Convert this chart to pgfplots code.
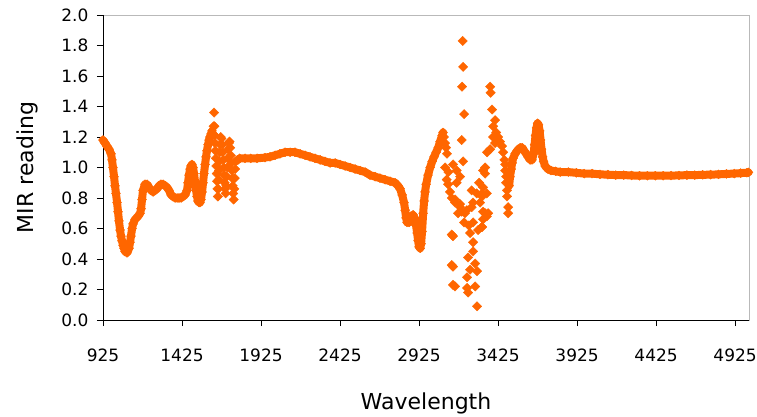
\documentclass[border=0pt]{standalone}
\usepackage{pgfplots}
\pgfplotsset{compat=1.18}
\usepackage{fontspec}
\setmainfont{DejaVu Sans}
\definecolor{xlor}{RGB}{255,102,0}
\begin{document}
\begin{tikzpicture}
\begin{axis}[
 scale only axis, width=646pt, height=305pt,
 xmin=925, xmax=5013, ymin=0, ymax=2,
 clip=false,
 xtick={925,1425,1925,2425,2925,3425,3925,4425,4925},
 ytick={0,0.2,0.4,0.6,0.8,1.0,1.2,1.4,1.6,1.8,2.0},
 axis line style={draw=gray!55, line width=0.9pt},
 tick align=outside, xtick pos=bottom, ytick pos=left,
 major tick length=6pt, tick style={black, line width=0.8pt},
 /pgf/number format/assume math mode=true,
 xticklabel style={font=\fontsize{17}{17}\selectfont, /pgf/number format/1000 sep={}, yshift=-19pt},
 yticklabel style={font=\fontsize{17}{17}\selectfont, xshift=-5pt, /pgf/number format/.cd, fixed, fixed zerofill, precision=1},
 xlabel={Wavelength}, ylabel={MIR reading},
 xlabel style={font=\fontsize{22}{22}\selectfont, at={(axis description cs:0.5,0)}, anchor=center, yshift=-83pt},
 ylabel style={font=\fontsize{22}{22}\selectfont, at={(axis description cs:0,0.5)}, anchor=center, yshift=76pt},
]
\coordinate (bl) at (rel axis cs:0,0);
\draw[black, line width=0.9pt] (rel axis cs:0,1) -- (rel axis cs:0,0) -- (rel axis cs:1,0);
% smooth segment A
\addplot[xlor, line width=8pt, line join=round, line cap=round, mark=square*, mark size=3.2pt, mark options={rotate=45, line width=0.4pt}] coordinates {
(925,1.18)(938,1.16)(950,1.14)(963,1.12)(976,1.09)(982,1.05)(988,1.00)(995,0.94)(1001,0.88)(1007,0.83)(1014,0.77)(1020,0.71)(1026,0.65)(1033,0.59)(1039,0.55)(1045,0.52)(1052,0.49)(1058,0.47)(1064,0.45)(1077,0.44)(1090,0.47)(1096,0.51)(1102,0.55)(1109,0.60)(1115,0.63)(1128,0.66)(1147,0.68)(1160,0.70)(1166,0.73)(1172,0.79)(1178,0.85)(1191,0.89)(1204,0.89)(1216,0.87)(1229,0.85)(1242,0.84)(1254,0.85)(1267,0.86)(1280,0.88)(1292,0.89)(1305,0.89)(1318,0.88)(1330,0.87)(1343,0.85)(1356,0.82)(1368,0.81)(1381,0.80)(1394,0.80)(1406,0.80)(1419,0.80)(1431,0.81)(1444,0.82)(1457,0.85)(1463,0.90)(1469,0.95)(1476,0.99)(1482,1.01)(1488,1.02)(1495,1.00)(1501,0.96)(1507,0.91)(1514,0.85)(1520,0.81)(1526,0.78)(1533,0.77)(1539,0.77)(1545,0.79)(1552,0.84)(1558,0.90)(1564,0.96)(1571,1.02)(1577,1.07)(1583,1.11)(1590,1.15)(1596,1.18)(1602,1.20)(1609,1.22)(1615,1.24)
};
% oscillating segment B
\addplot[xlor, only marks, mark=square*, mark size=3.3pt, mark options={rotate=45}] coordinates {
(1622,1.22)(1625,1.27)(1628,1.36)(1630,1.27)(1632,1.21)(1634,1.16)(1636,1.11)(1639,1.06)(1642,1.01)(1645,0.96)(1647,0.91)(1649,0.86)(1652,0.81)
(1655,0.86)(1657,0.92)(1659,0.98)(1661,1.04)(1663,1.10)(1666,1.15)
(1670,1.20)(1675,1.19)(1680,1.15)(1683,1.10)(1686,1.05)(1689,1.00)(1692,0.95)(1695,0.90)(1698,0.86)(1701,0.83)
(1705,0.88)(1708,0.94)(1711,1.00)(1714,1.06)(1718,1.12)(1722,1.16)(1726,1.17)
(1730,1.13)(1734,1.08)(1737,1.03)(1740,0.98)(1743,0.93)(1746,0.88)(1749,0.83)(1752,0.79)
(1756,0.86)(1759,0.93)(1762,0.99)
};
% smooth segment C
\addplot[xlor, line width=8pt, line join=round, line cap=round, mark=square*, mark size=3.2pt, mark options={rotate=45, line width=0.4pt}] coordinates {
(1765,1.04)(1790,1.06)(1824,1.06)(1860,1.06)(1900,1.06)(1950,1.065)(1982,1.07)(2014,1.08)(2045,1.09)(2077,1.10)(2109,1.10)(2140,1.10)(2172,1.09)(2204,1.08)(2235,1.07)(2267,1.06)(2299,1.05)(2330,1.04)(2362,1.03)(2394,1.03)(2425,1.02)(2457,1.01)(2489,1.00)(2520,0.99)(2552,0.98)(2584,0.97)(2615,0.95)(2647,0.94)(2678,0.93)(2710,0.92)(2742,0.91)(2774,0.90)(2792,0.88)(2805,0.86)(2818,0.82)(2830,0.77)(2837,0.72)(2843,0.67)(2849,0.64)(2862,0.64)(2875,0.68)(2887,0.69)(2900,0.66)(2906,0.62)(2913,0.57)(2919,0.52)(2925,0.48)(2932,0.47)(2938,0.50)(2944,0.58)(2951,0.70)(2957,0.78)(2963,0.84)(2970,0.89)(2982,0.95)(2995,1.00)(3008,1.04)(3020,1.07)(3033,1.10)(3046,1.13)(3058,1.17)(3071,1.21)(3077,1.23)
};
% scattered segment D
\addplot[xlor, only marks, mark=square*, mark size=3.3pt, mark options={rotate=45}] coordinates {
(3083,1.20)(3090,1.16)(3096,1.13)(3102,1.09)(3090,1.00)(3111,0.97)(3100,0.92)(3109,0.89)(3140,1.02)(3163,0.98)(3185,0.94)(3163,0.90)(3195,1.18)(3121,0.84)
(3132,0.80)(3153,0.79)(3153,0.77)(3185,0.76)(3185,0.74)(3172,0.70)(3195,0.71)(3216,0.70)(3227,0.72)(3258,0.74)(3267,0.77)(3258,0.85)(3290,0.83)(3305,0.90)(3322,0.83)(3354,0.83)(3311,0.77)(3210,0.64)(3240,0.62)
(3132,0.56)(3140,0.55)(3140,0.35)(3132,0.36)(3140,0.23)(3153,0.22)
(3248,0.57)(3267,0.64)(3299,0.59)(3322,0.61)(3330,0.66)(3354,0.68)(3362,0.70)(3330,0.71)(3267,0.51)(3267,0.45)(3280,0.37)(3235,0.41)(3248,0.33)(3229,0.28)(3229,0.21)(3235,0.18)(3292,0.32)(3280,0.22)(3292,0.09)
(3201,1.83)(3204,1.66)(3197,1.53)(3210,1.35)(3204,1.04)
(3375,1.53)(3378,1.49)(3387,1.38)(3394,1.27)(3406,1.31)(3394,1.20)(3406,1.16)(3413,1.23)(3425,1.20)(3438,1.17)(3450,1.14)(3457,1.10)(3465,1.05)(3375,1.12)(3356,1.10)(3343,1.00)(3330,0.98)(3343,0.96)(3330,0.87)(3324,0.81)(3343,0.70)(3324,0.61)
(3470,0.98)(3476,0.90)(3482,0.81)(3489,0.74)(3489,0.70)(3482,0.85)(3476,0.94)(3470,1.02)
};
% smooth segment E
\addplot[xlor, line width=8pt, line join=round, line cap=round, mark=square*, mark size=3.2pt, mark options={rotate=45, line width=0.4pt}] coordinates {
(3495,0.88)(3501,0.94)(3508,0.99)(3514,1.03)(3520,1.06)(3533,1.09)(3546,1.11)(3565,1.13)(3578,1.13)(3590,1.11)(3603,1.09)(3615,1.07)(3628,1.05)(3640,1.05)(3650,1.09)(3656,1.15)(3662,1.21)(3668,1.26)(3675,1.29)(3681,1.28)(3688,1.24)(3694,1.18)(3700,1.12)(3707,1.07)(3713,1.04)(3723,1.01)(3740,0.99)(3760,0.98)(3790,0.975)(3818,0.97)(3870,0.97)(3920,0.965)(3970,0.96)(4020,0.96)(4070,0.955)(4120,0.953)(4170,0.95)(4220,0.95)(4270,0.948)(4320,0.946)(4370,0.946)(4420,0.946)(4470,0.946)(4520,0.947)(4570,0.948)(4620,0.95)(4670,0.95)(4720,0.952)(4770,0.953)(4820,0.955)(4870,0.958)(4920,0.96)(4960,0.963)(5000,0.966)(5010,0.968)
};
\end{axis}
\pgfresetboundingbox
\path ([shift={(-103pt,-97pt)}]bl) rectangle ([shift={(654pt,320pt)}]bl);
\end{tikzpicture}
\end{document}
